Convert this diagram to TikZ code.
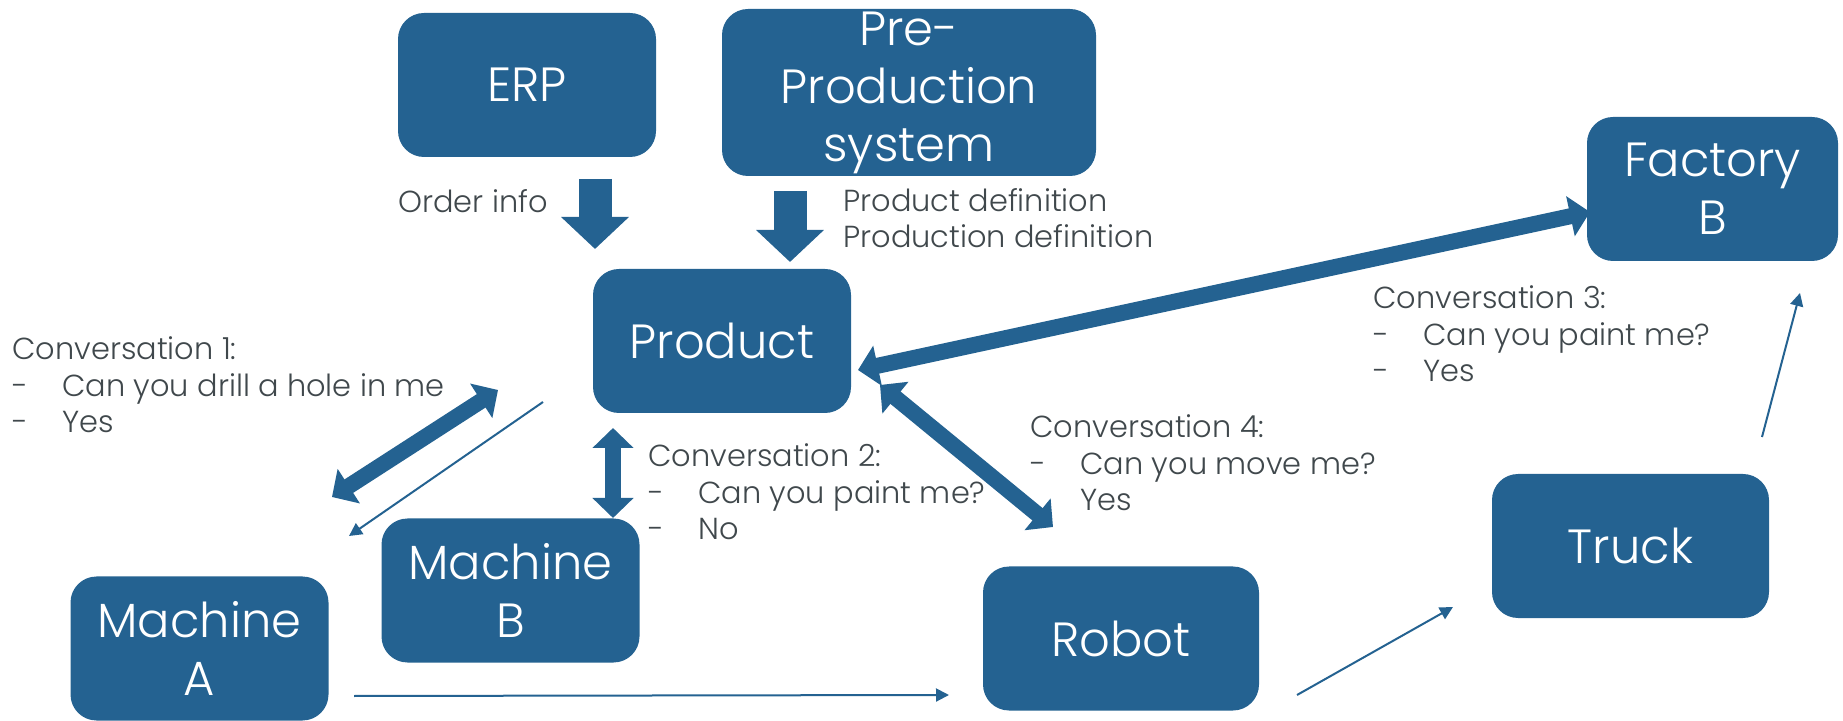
\documentclass[tikz,border=0pt]{standalone}
\usepackage{fontspec}
\IfFontExistsTF{Poppins Light}{\setmainfont{Poppins Light}}{\setmainfont{Poppins}}
\usepackage{xcolor}
\usetikzlibrary{arrows.meta, positioning, calc}

\definecolor{boxblue}{RGB}{36,98,145}
\definecolor{notegray}{RGB}{64,72,76}
\newcommand{\convline}[1]{\makebox[25pt][l]{-}#1}

\begin{document}
\begin{tikzpicture}[x=0.5pt, y=-0.5pt,
    box/.style={rectangle, rounded corners=13pt, fill=boxblue, text=white, align=center, minimum width=129pt, minimum height=72pt, inner sep=0pt, font=\fontsize{24}{29}\selectfont},
    note/.style={anchor=base west, inner sep=0pt, text=notegray, align=left, font=\fontsize{15.2}{18.25}\selectfont},
    feed/.style={-{Triangle[length=16pt, width=33pt]}, line width=16.5pt, boxblue},
    talk/.style={{Triangle[length=10pt, width=20pt]}-{Triangle[length=10pt, width=20pt]}, line width=8pt, boxblue},
    flow/.style={-{Triangle[length=6.5pt, width=6.5pt]}, line width=1pt, boxblue}
]
\useasboundingbox (0,0) rectangle (1843,721);

% Systems on top
\node[box] (ERP) at (527,85) {ERP};
\node[box, minimum width=187pt, minimum height=83.5pt] (PPS) at (909,92.5) {Pre-\\Production\\system};

% Product and resources
\node[box] (PR) at (722,341) {Product};
\node[box] (MB) at (510.5,590.5) {Machine\\B};
\node[box] (MA) at (199.5,648.5) {Machine\\A};
\node[box, minimum width=138pt] (RB) at (1121,638.5) {Robot};
\node[box, minimum width=138.5pt] (TR) at (1630.5,546) {Truck};
\node[box, minimum width=125.5pt] (FB) at (1712.5,189) {Factory\\B};

% Labels (anchored at the last line)
\node[note] (oi) at (398,213) {Order info};
\node[note] (pd) at (843,248) {Product definition\\Production definition};
\node[note] (cv1) at (12,433) {Conversation 1:\\\convline{Can you drill a hole in me}\\\convline{Yes}};
\node[note] (cv2) at (648,540) {Conversation 2:\\\convline{Can you paint me?}\\\convline{No}};
\node[note] (cv3) at (1373,382) {Conversation 3:\\\convline{Can you paint me?}\\\convline{Yes}};
\node[note] (cv4) at (1030,511) {Conversation 4:\\\convline{Can you move me?}\\\hspace*{25pt}Yes};

% Arrow ends
\coordinate (erpA) at (595,179);
\coordinate (erpB) at (595,249);
\coordinate (ppsA) at (790,191);
\coordinate (ppsB) at (790,262);
\coordinate (c1a) at (498,390);
\coordinate (c1b) at (332,497);
\coordinate (c1c) at (543,402);
\coordinate (c1d) at (349,536);
\coordinate (c2a) at (613,428);
\coordinate (c2b) at (613,518);
\coordinate (c3a) at (858,370);
\coordinate (c3b) at (1590,212);
\coordinate (c4a) at (880,385);
\coordinate (c4b) at (1053,527);
\coordinate (maOut) at (354,696);
\coordinate (rbIn) at (949,695);
\coordinate (rbOut) at (1297,695);
\coordinate (trIn) at (1453,607);
\coordinate (trOut) at (1762,437);
\coordinate (fbIn) at (1800,293);

% Arrows
\draw[feed] (erpA) -- (erpB);
\draw[feed] (ppsA) -- (ppsB);
\draw[talk] (c1a) -- (c1b);
\draw[flow] (c1c) -- (c1d);
\draw[talk] (c2a) -- (c2b);
\draw[talk] (c3a) -- (c3b);
\draw[talk] (c4a) -- (c4b);
\draw[flow] (maOut) -- (rbIn);
\draw[flow] (rbOut) -- (trIn);
\draw[flow] (trOut) -- (fbIn);

\end{tikzpicture}
\end{document}
